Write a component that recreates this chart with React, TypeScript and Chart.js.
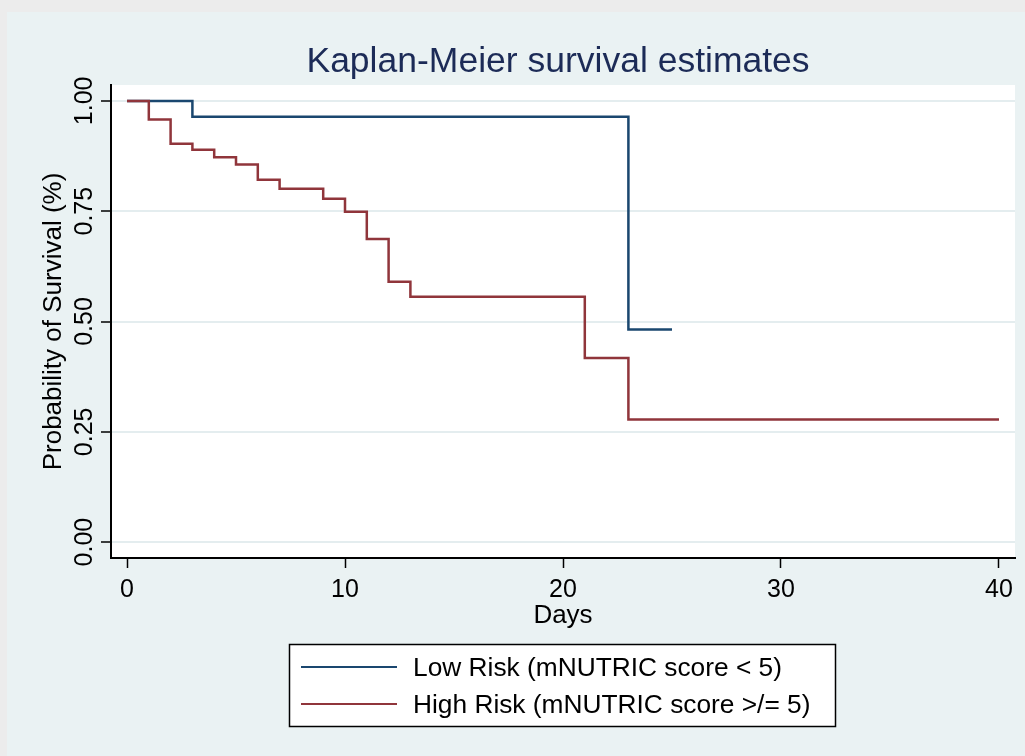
import { useEffect, useRef } from "react";
import { Chart, registerables } from "chart.js";

Chart.register(...registerables);

// Axis text and ticks
const chartTitle = "Kaplan-Meier survival estimates";
const xAxisTitle = "Days";
const yAxisTitle = "Probability of Survival (%)";
const xTickValues = [0, 10, 20, 30, 40];
const xTickLabels = ["0", "10", "20", "30", "40"];
const yTickValues = [0, 0.25, 0.5, 0.75, 1];
const yTickLabels = ["0.00", "0.25", "0.50", "0.75", "1.00"];

// Survival estimates (day of event, survival after the event)
const lowRiskLabel = "Low Risk (mNUTRIC score < 5)";
const lowRiskDays = [0, 3, 23, 25];
const lowRiskSurvival = [1, 0.964, 0.482, 0.482];

const highRiskLabel = "High Risk (mNUTRIC score >/= 5)";
const highRiskDays = [0, 1, 2, 3, 4, 5, 6, 7, 9, 10, 11, 12, 13, 21, 23, 40];
const highRiskSurvival = [
  1, 0.958, 0.903, 0.889, 0.872, 0.856, 0.821, 0.801, 0.778, 0.749, 0.687, 0.59,
  0.556, 0.417, 0.278, 0.278,
];

const FONT = "'Liberation Sans', Arial, Helvetica, sans-serif";
const NAVY = "#1a476f";
const MAROON = "#90353b";
const PANEL = "#eaf2f3";

const framePlugin = {
  id: "stataFrame",
  beforeDraw(chart: any) {
    const { ctx, width, height, chartArea } = chart;
    ctx.save();
    ctx.fillStyle = "#ececec";
    ctx.fillRect(0, 0, width, height);
    ctx.fillStyle = PANEL;
    ctx.fillRect(7, 12, width - 7, height - 12);
    ctx.fillStyle = "#ffffff";
    ctx.fillRect(
      chartArea.left,
      chartArea.top,
      chartArea.right - chartArea.left,
      chartArea.bottom - chartArea.top
    );
    ctx.restore();
  },
  afterDraw(chart: any) {
    const { ctx, scales } = chart;
    const xs = scales.x;
    const ys = scales.y;
    ctx.save();

    // Title
    ctx.fillStyle = "#1c2b57";
    ctx.font = `35.5px ${FONT}`;
    ctx.textAlign = "center";
    ctx.textBaseline = "alphabetic";
    ctx.fillText(chartTitle, 558, 72);

    // X tick labels and title
    ctx.fillStyle = "#000000";
    ctx.font = `25px ${FONT}`;
    xTickValues.forEach((v, i) => {
      ctx.fillText(xTickLabels[i], xs.getPixelForValue(v), 597);
    });
    ctx.font = `26px ${FONT}`;
    ctx.fillText(xAxisTitle, (xs.left + xs.right) / 2, 623);

    // Y tick labels (rotated) and title
    ctx.font = `25px ${FONT}`;
    yTickValues.forEach((v, i) => {
      ctx.save();
      ctx.translate(92, ys.getPixelForValue(v));
      ctx.rotate(-Math.PI / 2);
      ctx.textAlign = "center";
      ctx.fillText(yTickLabels[i], 0, 0);
      ctx.restore();
    });
    ctx.save();
    ctx.font = `26px ${FONT}`;
    ctx.translate(61, (ys.getPixelForValue(0) + ys.getPixelForValue(1)) / 2);
    ctx.rotate(-Math.PI / 2);
    ctx.textAlign = "center";
    ctx.fillText(yAxisTitle, 0, 0);
    ctx.restore();

    // Legend box
    const bx = 289.5;
    const by = 644.5;
    const bw = 546;
    const bh = 82;
    ctx.fillStyle = "#ffffff";
    ctx.fillRect(bx, by, bw, bh);
    ctx.strokeStyle = "#000000";
    ctx.lineWidth = 1.5;
    ctx.strokeRect(bx, by, bw, bh);
    const rows = [667, 704];
    chart.data.datasets.forEach((ds: any, i: number) => {
      const y = rows[i];
      ctx.strokeStyle = ds.borderColor;
      ctx.lineWidth = 2;
      ctx.beginPath();
      ctx.moveTo(301, y);
      ctx.lineTo(397, y);
      ctx.stroke();
      ctx.fillStyle = "#000000";
      ctx.font = `26.3px ${FONT}`;
      ctx.textAlign = "left";
      ctx.textBaseline = "alphabetic";
      ctx.fillText(ds.label, 413, y + 9);
    });

    ctx.restore();
  },
};

export default function App() {
  const canvasRef = useRef<HTMLCanvasElement | null>(null);

  useEffect(() => {
    const canvas = canvasRef.current;
    if (!canvas) return;

    const chart = new Chart(canvas, {
      type: "line",
      data: {
        datasets: [
          {
            label: lowRiskLabel,
            data: lowRiskDays.map((d, i) => ({ x: d, y: lowRiskSurvival[i] })),
            borderColor: NAVY,
            borderWidth: 2.5,
            pointRadius: 0,
            stepped: true,
            fill: false,
            order: 1,
          },
          {
            label: highRiskLabel,
            data: highRiskDays.map((d, i) => ({ x: d, y: highRiskSurvival[i] })),
            borderColor: MAROON,
            borderWidth: 2.5,
            pointRadius: 0,
            stepped: true,
            fill: false,
            order: 0,
          },
        ],
      },
      options: {
        animation: false,
        responsive: false,
        devicePixelRatio: 1,
        events: [],
        layout: { padding: { top: 85, right: 10, left: 0, bottom: 0 } },
        plugins: {
          legend: { display: false },
          title: { display: false },
          tooltip: { enabled: false },
        },
        scales: {
          x: {
            type: "linear",
            min: -0.734,
            max: 40.734,
            afterBuildTicks: (s: any) => {
              s.ticks = xTickValues.map((v) => ({ value: v }));
            },
            afterFit: (s: any) => {
              s.height = 198;
            },
            ticks: { display: false },
            grid: {
              drawOnChartArea: false,
              drawTicks: true,
              tickLength: 10,
              tickColor: "#000000",
              tickWidth: 1.5,
            },
            border: { display: true, color: "#000000", width: 2 },
          },
          y: {
            type: "linear",
            min: -0.036,
            max: 1.036,
            afterBuildTicks: (s: any) => {
              s.ticks = yTickValues.map((v) => ({ value: v }));
            },
            afterFit: (s: any) => {
              s.width = 111;
            },
            ticks: { display: false },
            grid: {
              color: "#e4edef",
              lineWidth: 2,
              drawTicks: true,
              tickLength: 10,
              tickColor: "#000000",
              tickWidth: 1.5,
            },
            border: { display: true, color: "#000000", width: 2 },
          },
        },
      },
      plugins: [framePlugin],
    });

    return () => chart.destroy();
  }, []);

  return (
    <div style={{ position: "fixed", left: 0, top: 0, width: 1025, height: 756 }}>
      <canvas ref={canvasRef} width={1025} height={756} style={{ display: "block" }} />
    </div>
  );
}
